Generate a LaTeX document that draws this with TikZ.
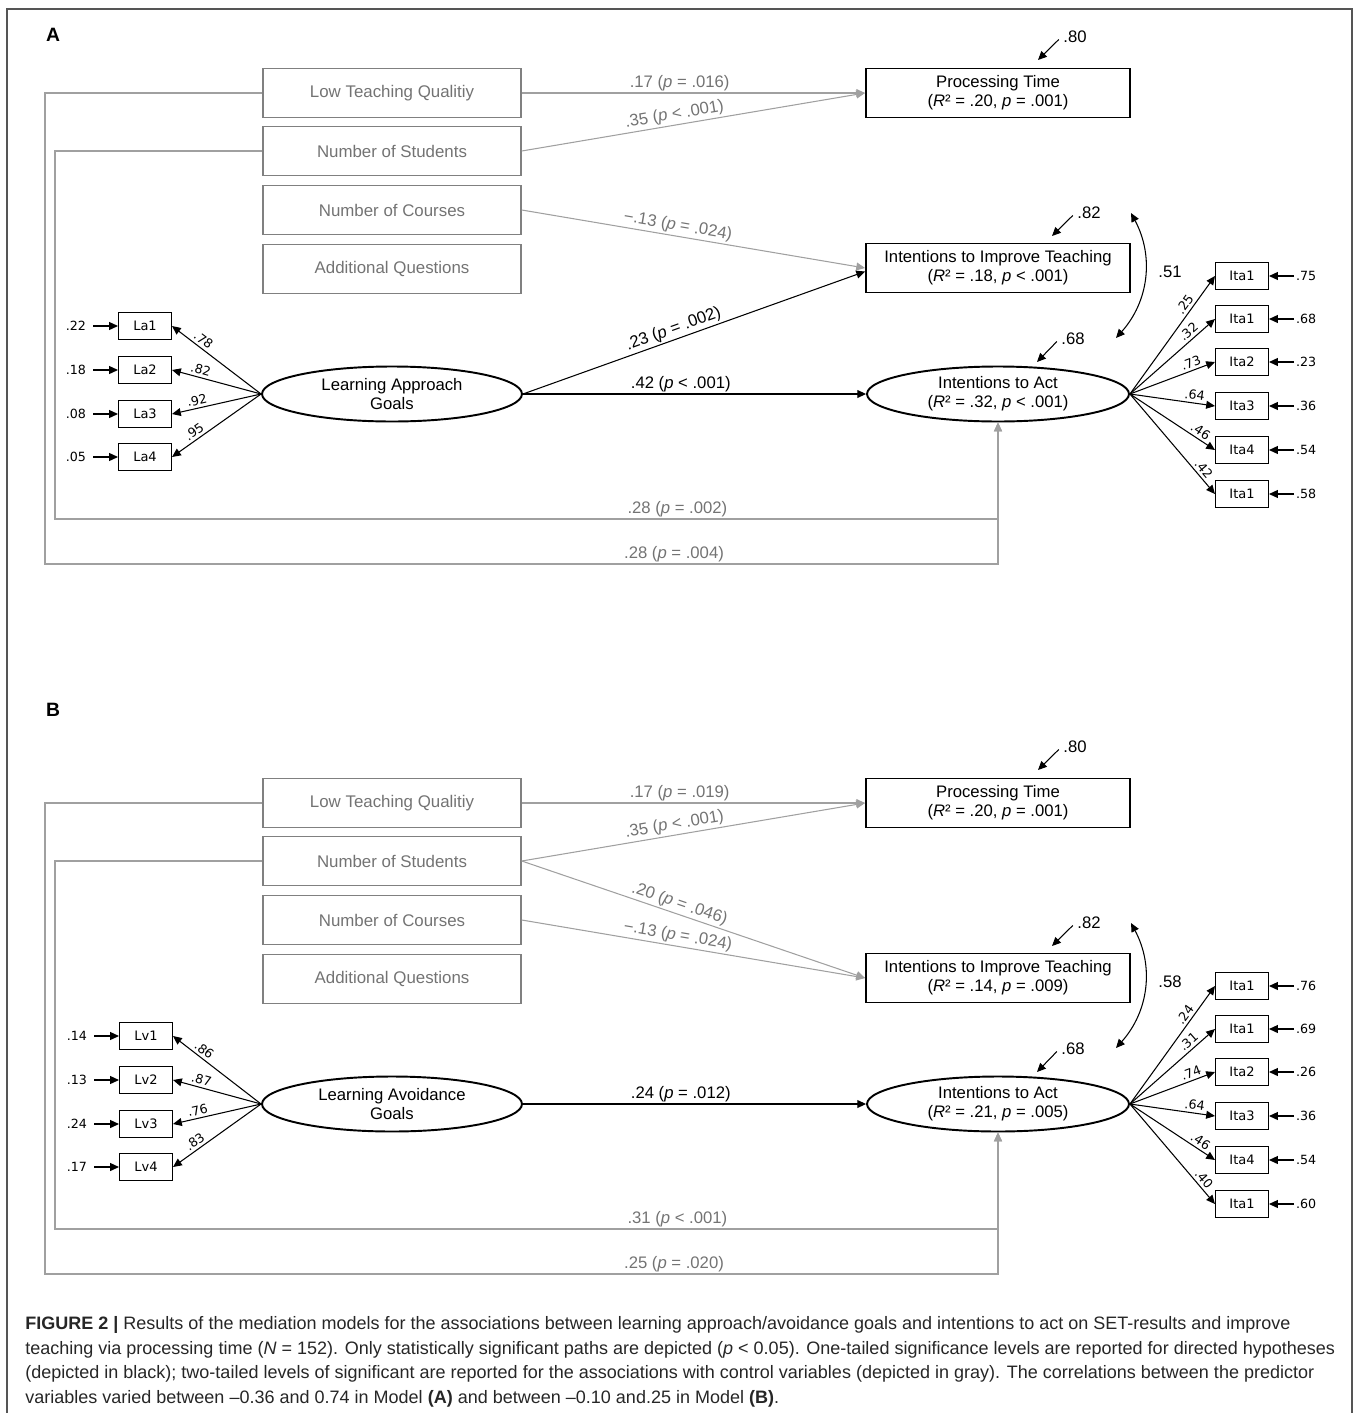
\documentclass[tikz,border=0pt]{standalone}
\usepackage{fontspec}
\setmainfont{Liberation Sans}
\newfontfamily\indfont{DejaVu Sans}
\usetikzlibrary{shapes.geometric, positioning, arrows.meta}
\definecolor{ctrlline}{RGB}{160,160,160}
\definecolor{ctrlbox}{RGB}{128,128,128}
\definecolor{ctrltext}{RGB}{115,115,115}
\definecolor{framegray}{RGB}{85,85,85}
\tikzset{
  >={Triangle[length=5pt,width=4.5pt]},
  every node/.style={inner sep=1pt},
  ctrl/.style={draw=ctrlbox, line width=0.9pt, text=ctrltext, minimum width=5.16cm,
    minimum height=0.98cm, font=\fontsize{9.6}{11}\selectfont},
  outcome/.style={draw, line width=1.1pt, minimum width=5.28cm, minimum height=0.98cm,
    align=center, font=\fontsize{9.5}{11}\selectfont},
  latent/.style={ellipse, draw, line width=1.1pt, minimum width=5.2cm, minimum height=1.1cm,
    inner sep=0pt, align=center, font=\fontsize{9.5}{11}\selectfont},
  indicator/.style={draw, line width=0.6pt, minimum width=1.06cm, minimum height=0.54cm,
    inner sep=0pt, font=\indfont\fontsize{7.4}{8}\selectfont},
  small/.style={font=\indfont\fontsize{7.2}{8}\selectfont},
  ld/.style={small, inner sep=0pt, sloped, above=1.5pt},
  coef/.style={font=\fontsize{9.5}{11}\selectfont},
  ctrlcoef/.style={coef, text=ctrltext},
  panel/.style={font=\bfseries\fontsize{11}{13}\selectfont},
  main/.style={line width=0.6pt, ->},
  loading/.style={line width=0.6pt, every edge/.append style={line width=0.6pt, ->}},
  ctrlpath/.style={ctrlline, line width=0.6pt, ->},
  caption/.style={align=left, inner sep=0pt, text=black!85, font=\fontsize{10.25}{14}\selectfont},
}

\begin{document}
\begin{tikzpicture}[x=0.02cm, y=-0.02cm]
  \useasboundingbox (0,0) rectangle (1358,1413);
  \draw[framegray, line width=0.8pt] (7,1413) -- (7,9) -- (1352,9) -- (1352,1413);

  % Model A
  \node[panel] (labA) at (53,35) {A};
  \node[ctrl] (ltqA) at (392,93)  {Low Teaching Qualitiy};
  \node[ctrl] (nosA) at (392,151) {Number of Students};
  \node[ctrl] (nocA) at (392,210) {Number of Courses};
  \node[ctrl] (aqA)  at (392,269) {Additional Questions};
  \node[outcome] (ptA)   at (998,93)  {Processing Time\\(\textit{R}² = .20, \textit{p} = .001)};
  \node[outcome] (ititA) at (998,268) {Intentions to Improve Teaching\\(\textit{R}² = .18, \textit{p} < .001)};
  \node[latent] (lagA) at (392,394) {Learning Approach\\Goals};
  \node[latent, minimum width=5.24cm] (itaA) at (998,394) {Intentions to Act\\(\textit{R}² = .32, \textit{p} < .001)};

  \node[indicator] (la1A) at (145,326) {La1};
  \node[indicator] (la2A) at (145,370) {La2};
  \node[indicator] (la3A) at (145,414) {La3};
  \node[indicator] (la4A) at (145,457) {La4};
  \node[small, left=0.6cm of la1A] (ela1A) {.22};
  \node[small, left=0.6cm of la2A] (ela2A) {.18};
  \node[small, left=0.6cm of la3A] (ela3A) {.08};
  \node[small, left=0.6cm of la4A] (ela4A) {.05};

  \node[indicator] (it1A) at (1242,276) {Ita1};
  \node[indicator] (it2A) at (1242,319) {Ita1};
  \node[indicator] (it3A) at (1242,362) {Ita2};
  \node[indicator] (it4A) at (1242,406) {Ita3};
  \node[indicator] (it5A) at (1242,450) {Ita4};
  \node[indicator] (it6A) at (1242,494) {Ita1};
  \node[small, right=0.5cm of it1A] (eit1A) {.75};
  \node[small, right=0.5cm of it2A] (eit2A) {.68};
  \node[small, right=0.5cm of it3A] (eit3A) {.23};
  \node[small, right=0.5cm of it4A] (eit4A) {.36};
  \node[small, right=0.5cm of it5A] (eit5A) {.54};
  \node[small, right=0.5cm of it6A] (eit6A) {.58};

  \node[coef] (rptA)   at (1075,37)  {.80};
  \node[coef] (rititA) at (1089,213) {.82};
  \node[coef] (ritaA)  at (1073,339) {.68};
  \node[coef] (corA)   at (1170,272) {.51};
  \coordinate (tptA)   at (1038,60);
  \coordinate (tititA) at (1052,236);
  \coordinate (titaA)  at (1037,362);
  \coordinate (c1A) at (1131,213);
  \coordinate (c2A) at (1116,338);
  \coordinate (outA) at (45,564);
  \coordinate (inA)  at (55,519);

  \draw[ctrlpath] (ltqA.east) -- node[ctrlcoef, above, pos=.46] {.17 (\textit{p} = .016)} (ptA.west);
  \draw[ctrlpath] (nosA.east) -- node[ctrlcoef, sloped, above, pos=.45] {.35 (\textit{p} < .001)} (ptA.west);
  \draw[ctrlpath] (nocA.east) -- node[ctrlcoef, sloped, above, pos=.45] {−.13 (\textit{p} = .024)} (ititA.west);
  \draw[ctrlpath] (ltqA.west) -| (outA) -| node[ctrlcoef, above, pos=.33] {.28 (\textit{p} = .004)} (itaA.south);
  \draw[ctrlpath] (nosA.west) -| (inA) -| node[ctrlcoef, above, pos=.33] {.28 (\textit{p} = .002)} (itaA.south);
  \draw[main] (lagA.east) -- node[coef, sloped, above, pos=.45] {.23 (\textit{p} = .002)} ([yshift=-2pt]ititA.west);
  \draw[main] (lagA.east) -- node[coef, above, pos=.46] {.42 (\textit{p} < .001)} (itaA.west);

  \draw[loading] (lagA.west) edge node[ld, pos=.7] {.78} (la1A.east)
                 (lagA.west) edge node[ld, pos=.7] {.82} (la2A.east)
                 (lagA.west) edge node[ld, pos=.7] {.92} (la3A.east)
                 (lagA.west) edge node[ld, pos=.7] {.95} (la4A.east);
  \draw[loading, shorten <=3pt] (ela1A) edge (la1A) (ela2A) edge (la2A)
                 (ela3A) edge (la3A) (ela4A) edge (la4A);

  \draw[loading] (itaA.east) edge node[ld, pos=.72] {.25} (it1A.west)
                 (itaA.east) edge node[ld, pos=.75] {.32} (it2A.west)
                 (itaA.east) edge node[ld, pos=.75] {.73} (it3A.west)
                 (itaA.east) edge node[ld, pos=.75] {.64} (it4A.west)
                 (itaA.east) edge node[ld, pos=.78] {.46} (it5A.west)
                 (itaA.east) edge node[ld, pos=.8]  {.42} (it6A.west);
  \draw[loading] (eit1A) edge (it1A) (eit2A) edge (it2A) (eit3A) edge (it3A)
                 (eit4A) edge (it4A) (eit5A) edge (it5A) (eit6A) edge (it6A);

  \draw[main, shorten <=2pt] (rptA.west) -- (tptA);
  \draw[main, shorten <=2pt] (rititA.west) -- (tititA);
  \draw[main, shorten <=2pt] (ritaA.west) -- (titaA);
  \draw[main, <->] (c1A) to[bend left=35] (c2A);

  % Model B
  \node[panel] (labB) at (53,710) {B};
  \node[ctrl] (ltqB) at (392,803) {Low Teaching Qualitiy};
  \node[ctrl] (nosB) at (392,861) {Number of Students};
  \node[ctrl] (nocB) at (392,920) {Number of Courses};
  \node[ctrl] (aqB)  at (392,979) {Additional Questions};
  \node[outcome] (ptB)   at (998,803) {Processing Time\\(\textit{R}² = .20, \textit{p} = .001)};
  \node[outcome] (ititB) at (998,978) {Intentions to Improve Teaching\\(\textit{R}² = .14, \textit{p} = .009)};
  \node[latent] (lagB) at (392,1104) {Learning Avoidance\\Goals};
  \node[latent, minimum width=5.24cm] (itaB) at (998,1104) {Intentions to Act\\(\textit{R}² = .21, \textit{p} = .005)};

  \node[indicator] (lv1B) at (146,1036) {Lv1};
  \node[indicator] (lv2B) at (146,1080) {Lv2};
  \node[indicator] (lv3B) at (146,1124) {Lv3};
  \node[indicator] (lv4B) at (146,1167) {Lv4};
  \node[small, left=0.6cm of lv1B] (elv1B) {.14};
  \node[small, left=0.6cm of lv2B] (elv2B) {.13};
  \node[small, left=0.6cm of lv3B] (elv3B) {.24};
  \node[small, left=0.6cm of lv4B] (elv4B) {.17};

  \node[indicator] (it1B) at (1242,986)  {Ita1};
  \node[indicator] (it2B) at (1242,1029) {Ita1};
  \node[indicator] (it3B) at (1242,1072) {Ita2};
  \node[indicator] (it4B) at (1242,1116) {Ita3};
  \node[indicator] (it5B) at (1242,1160) {Ita4};
  \node[indicator] (it6B) at (1242,1204) {Ita1};
  \node[small, right=0.5cm of it1B] (eit1B) {.76};
  \node[small, right=0.5cm of it2B] (eit2B) {.69};
  \node[small, right=0.5cm of it3B] (eit3B) {.26};
  \node[small, right=0.5cm of it4B] (eit4B) {.36};
  \node[small, right=0.5cm of it5B] (eit5B) {.54};
  \node[small, right=0.5cm of it6B] (eit6B) {.60};

  \node[coef] (rptB)   at (1075,747)  {.80};
  \node[coef] (rititB) at (1089,923)  {.82};
  \node[coef] (ritaB)  at (1073,1049) {.68};
  \node[coef] (corB)   at (1170,982)  {.58};
  \coordinate (tptB)   at (1038,770);
  \coordinate (tititB) at (1052,946);
  \coordinate (titaB)  at (1037,1072);
  \coordinate (c1B) at (1131,923);
  \coordinate (c2B) at (1116,1048);
  \coordinate (outB) at (45,1274);
  \coordinate (inB)  at (55,1229);

  \draw[ctrlpath] (ltqB.east) -- node[ctrlcoef, above, pos=.46] {.17 (\textit{p} = .019)} (ptB.west);
  \draw[ctrlpath] (nosB.east) -- node[ctrlcoef, sloped, above, pos=.45] {.35 (\textit{p} < .001)} (ptB.west);
  \draw[ctrlpath] (nosB.east) -- node[ctrlcoef, sloped, above, pos=.45] {.20 (\textit{p} = .046)} (ititB.west);
  \draw[ctrlpath] (nocB.east) -- node[ctrlcoef, sloped, above, pos=.45] {−.13 (\textit{p} = .024)} (ititB.west);
  \draw[ctrlpath] (ltqB.west) -| (outB) -| node[ctrlcoef, above, pos=.33] {.25 (\textit{p} = .020)} (itaB.south);
  \draw[ctrlpath] (nosB.west) -| (inB) -| node[ctrlcoef, above, pos=.33] {.31 (\textit{p} < .001)} (itaB.south);
  \draw[main] (lagB.east) -- node[coef, above, pos=.46] {.24 (\textit{p} = .012)} (itaB.west);

  \draw[loading] (lagB.west) edge node[ld, pos=.7] {.86} (lv1B.east)
                 (lagB.west) edge node[ld, pos=.7] {.87} (lv2B.east)
                 (lagB.west) edge node[ld, pos=.7] {.76} (lv3B.east)
                 (lagB.west) edge node[ld, pos=.7] {.83} (lv4B.east);
  \draw[loading, shorten <=3pt] (elv1B) edge (lv1B) (elv2B) edge (lv2B)
                 (elv3B) edge (lv3B) (elv4B) edge (lv4B);

  \draw[loading] (itaB.east) edge node[ld, pos=.72] {.24} (it1B.west)
                 (itaB.east) edge node[ld, pos=.75] {.31} (it2B.west)
                 (itaB.east) edge node[ld, pos=.75] {.74} (it3B.west)
                 (itaB.east) edge node[ld, pos=.75] {.64} (it4B.west)
                 (itaB.east) edge node[ld, pos=.78] {.46} (it5B.west)
                 (itaB.east) edge node[ld, pos=.8]  {.40} (it6B.west);
  \draw[loading] (eit1B) edge (it1B) (eit2B) edge (it2B) (eit3B) edge (it3B)
                 (eit4B) edge (it4B) (eit5B) edge (it5B) (eit6B) edge (it6B);

  \draw[main, shorten <=2pt] (rptB.west) -- (tptB);
  \draw[main, shorten <=2pt] (rititB.west) -- (tititB);
  \draw[main, shorten <=2pt] (ritaB.west) -- (titaB);
  \draw[main, <->] (c1B) to[bend left=35] (c2B);

  % caption
  \node[caption, anchor=north west] (capt) at (25,1316)
    {\textbf{FIGURE 2 |} Results of the mediation models for the associations between learning approach/avoidance goals and intentions to act on SET-results and improve\\
     teaching via processing time (\textit{N} = 152). Only statistically significant paths are depicted (\textit{p} < 0.05). One-tailed significance levels are reported for directed hypotheses\\
     (depicted in black); two-tailed levels of significant are reported for the associations with control variables (depicted in gray). The correlations between the predictor\\
     variables varied between –0.36 and 0.74 in Model \textbf{(A)} and between –0.10 and.25 in Model \textbf{(B)}.};
\end{tikzpicture}
\end{document}
